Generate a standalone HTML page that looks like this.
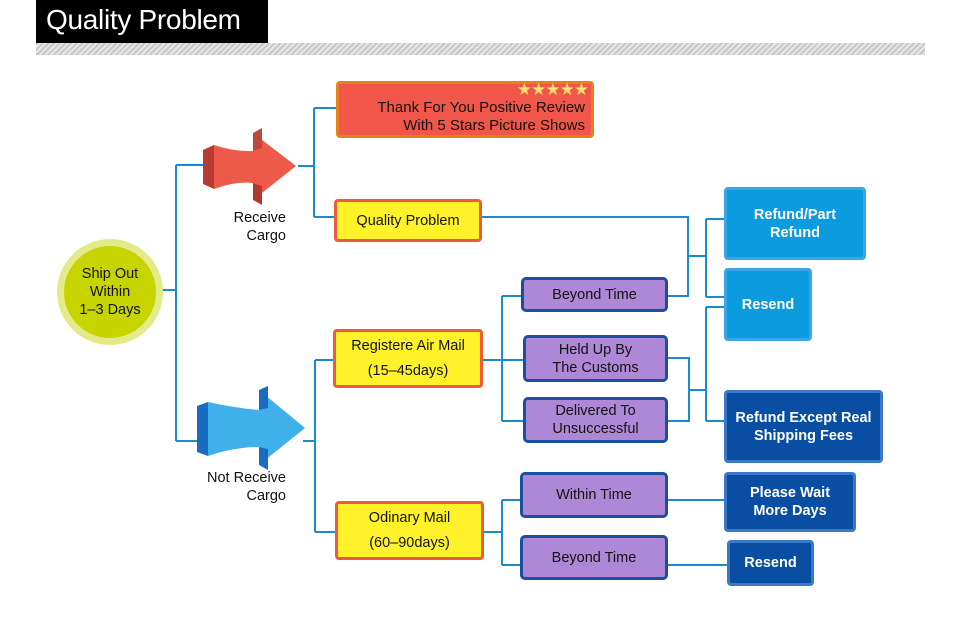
<!DOCTYPE html>
<html><head><meta charset="utf-8"><style>
body{margin:0;width:960px;height:642px;background:#fff;position:relative;overflow:hidden;font-family:"Liberation Sans",sans-serif}
.b{position:absolute;box-sizing:border-box;display:flex;align-items:center;justify-content:center;text-align:center;font-size:14.5px;line-height:18px;border-radius:4px}
.y{background:#fff22a;border:3px solid #ee5a3c;color:#111}
.p{background:#ae88d6;border:3px solid #1b4fa0;color:#111;border-radius:5px}
.lb{background:#0d9be0;border:3px solid #3aa6e8;color:#fff;font-weight:bold}
.db{background:#0a4ea3;border:3px solid #3a78c8;color:#fff;font-weight:bold}
.t{position:absolute;font-size:14.5px;line-height:18px;text-align:right;color:#111}
</style></head><body>
<div style="position:absolute;left:36px;top:0;width:232px;height:43px;background:#000;color:#fff;font-size:28px;letter-spacing:-0.3px;line-height:40px;padding-left:10px;box-sizing:border-box">Quality Problem</div>
<div style="position:absolute;left:36px;top:43px;width:889px;height:12px;background:repeating-linear-gradient(135deg,#c8c8c8 0 2px,#e6e6e6 2px 4px)"></div>
<svg width="960" height="642" style="position:absolute;left:0;top:0">
<g stroke="#1a8ccc" stroke-width="2" fill="none">
<path d="M162 290H176M176 165V441M176 165H203M176 441H197"/>
<path d="M298 166H314M314 108V217M314 108H336M314 217H334"/>
<path d="M482 217H688V296H668M688 256H706M706 219V297M706 219H724M706 297H724"/>
<path d="M668 358H689V421H668M689 390H706M706 307V421M706 307H724M706 421H724"/>
<path d="M303 441H315M315 360V532M315 360H333M315 532H335"/>
<path d="M483 360H502M502 296V421M502 296H521M502 360H523M502 421H523"/>
<path d="M484 532H502M502 500V565M502 500H520M502 565H520"/>
<path d="M668 500H724M668 565H727"/>
</g>
<circle cx="110" cy="292" r="53" fill="#e3ea8a"/>
<circle cx="110" cy="292" r="46" fill="#c8d400"/>
<path d="M214 145 Q235 152 253 151 L253 133 L296 166 L253 200 L253 183 Q235 181 214 189 Z" fill="#ee5a4a"/>
<polygon points="203,150 214,145 214,189 203,184" fill="#b83a30"/>
<polygon points="253,133 262,128 262,148 253,151" fill="#c0453a"/>
<polygon points="253,183 262,186 262,205 253,200" fill="#b03a30"/>
<path d="M208 402 Q235 408 259 410 L259 390 L305 428 L259 465 L259 447 Q235 447 208 456 Z" fill="#3fb0ea"/>
<polygon points="197,406 208,402 208,456 197,452" fill="#1a6cc0"/>
<polygon points="259,390 268,386 268,408 259,410" fill="#1a6cc0"/>
<polygon points="259,447 268,449 268,470 259,465" fill="#1a6cc0"/>
</svg>
<div class="b" style="left:60px;top:262px;width:100px;height:60px;color:#111">Ship Out<br>Within<br>1–3 Days</div>
<div class="t" style="left:200px;top:209px;width:86px">Receive<br>Cargo</div>
<div class="t" style="left:180px;top:469px;width:106px">Not Receive<br>Cargo</div>
<div class="b" style="left:336px;top:81px;width:258px;height:57px;background:#f0574a;border:3px solid #e8801a;color:#111;justify-content:flex-end;text-align:right;padding-right:6px;padding-top:14px;font-size:15px">Thank For You Positive Review<br>With 5 Stars Picture Shows</div>
<div style="position:absolute;left:500px;top:80px;width:88px;text-align:right;color:#ffe070;font-size:17px;letter-spacing:-1px">★★★★★</div>
<div class="b y" style="left:334px;top:199px;width:148px;height:43px">Quality Problem</div>
<div class="b y" style="left:333px;top:329px;width:150px;height:59px;line-height:25px">Registere Air Mail<br>(15–45days)</div>
<div class="b y" style="left:335px;top:501px;width:149px;height:59px;line-height:25px">Odinary Mail<br>(60–90days)</div>
<div class="b p" style="left:521px;top:277px;width:147px;height:35px">Beyond Time</div>
<div class="b p" style="left:523px;top:335px;width:145px;height:47px">Held Up By<br>The Customs</div>
<div class="b p" style="left:523px;top:397px;width:145px;height:46px">Delivered To<br>Unsuccessful</div>
<div class="b p" style="left:520px;top:472px;width:148px;height:46px">Within Time</div>
<div class="b p" style="left:520px;top:535px;width:148px;height:45px">Beyond Time</div>
<div class="b lb" style="left:724px;top:187px;width:142px;height:73px">Refund/Part<br>Refund</div>
<div class="b lb" style="left:724px;top:268px;width:88px;height:73px">Resend</div>
<div class="b db" style="left:724px;top:390px;width:159px;height:73px">Refund Except Real<br>Shipping Fees</div>
<div class="b db" style="left:724px;top:472px;width:132px;height:60px">Please Wait<br>More Days</div>
<div class="b db" style="left:727px;top:540px;width:87px;height:46px">Resend</div>
</body></html>
